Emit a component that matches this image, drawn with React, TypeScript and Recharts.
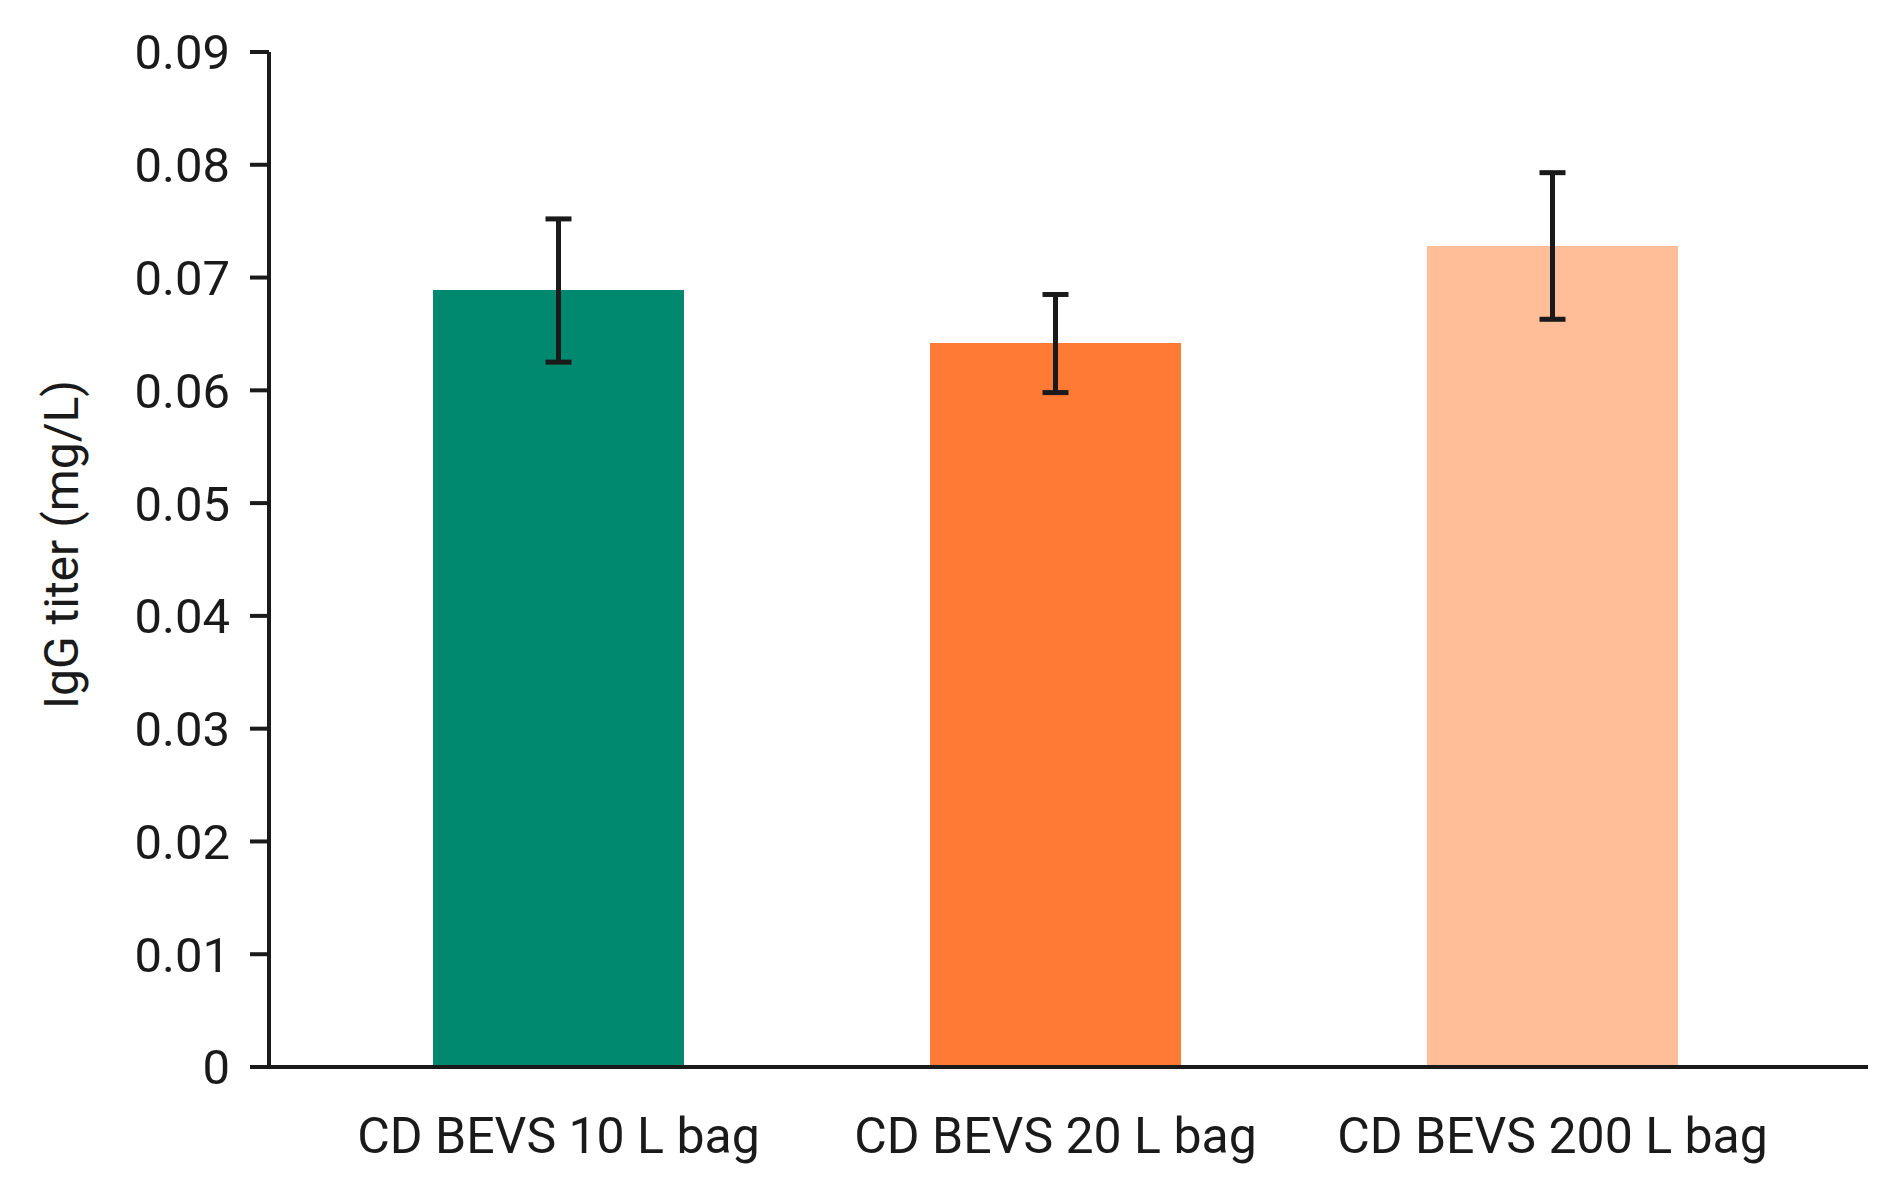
import React from 'react';
import { BarChart, Bar, XAxis, YAxis, ErrorBar, Cell, Label } from 'recharts';

const categories = ['CD BEVS 10 L bag', 'CD BEVS 20 L bag', 'CD BEVS 200 L bag'];
const titers = [0.0689, 0.0642, 0.0728];
const errLow = [0.0064, 0.0044, 0.0065];
const errHigh = [0.0063, 0.0043, 0.0065];
const barColors = ['#00896E', '#FF7A35', '#FFBD98'];
const yTicks = [0, 0.01, 0.02, 0.03, 0.04, 0.05, 0.06, 0.07, 0.08, 0.09];
const yTickLabels = ['0', '0.01', '0.02', '0.03', '0.04', '0.05', '0.06', '0.07', '0.08', '0.09'];

const data = categories.map((name, i) => ({
  name,
  value: titers[i],
  err: [errLow[i], errHigh[i]],
}));

const INK = '#1a1a1a';
const FONT = 'Roboto';

export default function App() {
  return (
    <div style={{ position: 'absolute', left: 0, top: 0 }}>
      <BarChart
        width={1890}
        height={1195}
        data={data}
        margin={{ top: 52, right: 22, bottom: 0, left: 0 }}
        barSize={251}
      >
        <XAxis
          dataKey="name"
          type="category"
          height={128}
          interval={0}
          tickLine={false}
          tickSize={0}
          tickMargin={50}
          padding={{ left: 41, right: 67 }}
          axisLine={{ stroke: INK, strokeWidth: 4 }}
          tick={{ fill: INK, fontSize: 50, fontFamily: FONT }}
        />
        <YAxis
          width={269}
          type="number"
          domain={[0, 0.09]}
          ticks={yTicks}
          interval={0}
          tickFormatter={(v: number) => yTickLabels[yTicks.indexOf(v)] ?? String(v)}
          tickSize={19}
          tickMargin={20}
          axisLine={{ stroke: INK, strokeWidth: 4 }}
          tickLine={{ stroke: INK, strokeWidth: 4 }}
          tick={{ fill: INK, fontSize: 49, fontFamily: FONT }}
        >
          <Label
            value="IgG titer (mg/L)"
            angle={-90}
            position="insideLeft"
            offset={61}
            dy={-15}
            fill={INK}
            fontSize={48}
            fontFamily={FONT}
            style={{ textAnchor: 'middle' }}
          />
        </YAxis>
        <Bar dataKey="value" isAnimationActive={false}>
          {data.map((d, i) => (
            <Cell key={d.name} fill={barColors[i]} />
          ))}
          <ErrorBar dataKey="err" width={13} stroke={INK} strokeWidth={5} direction="y" />
        </Bar>
      </BarChart>
    </div>
  );
}
